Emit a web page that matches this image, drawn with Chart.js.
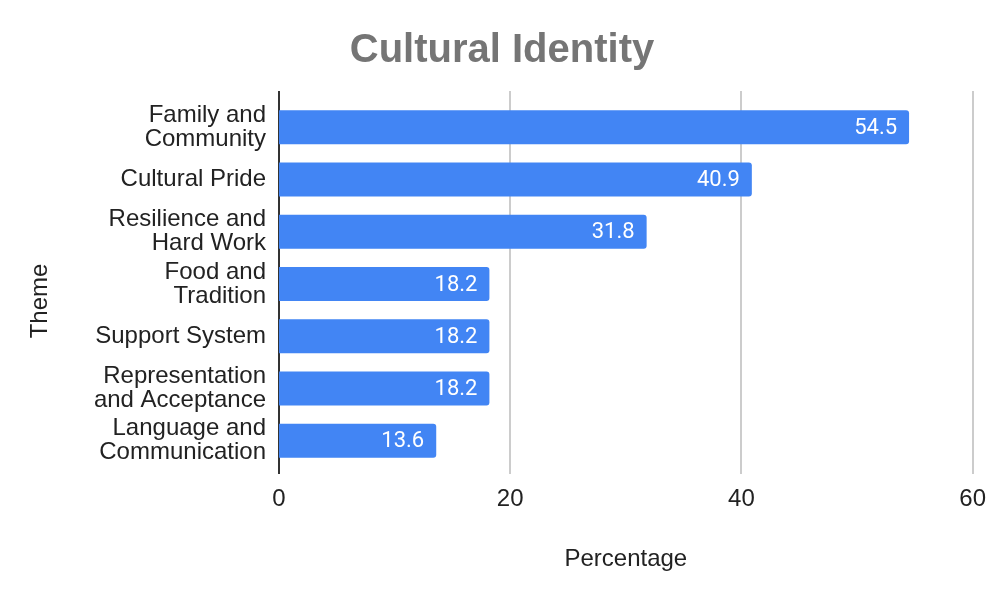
<!DOCTYPE html>
<html>
<head>
<meta charset="utf-8">
<script src="https://cdn.jsdelivr.net/npm/chart.js@4.4.0/dist/chart.umd.min.js"></script>
<style>
  html, body { margin: 0; padding: 0; background: #ffffff; }
  #wrap { width: 1004px; height: 602px; }
</style>
</head>
<body>
<div id="wrap"><canvas id="c" width="1004" height="602"></canvas></div>
<script>
const categories = [
  ["Family and", "Community"],
  "Cultural Pride",
  ["Resilience and", "Hard Work"],
  ["Food and", "Tradition"],
  "Support System",
  ["Representation", "and Acceptance"],
  ["Language and", "Communication"]
];
const percentages = [54.5, 40.9, 31.8, 18.2, 18.2, 18.2, 13.6];
const xTicks = [0, 20, 40, 60];

const chartTitle = "Cultural Identity";
const xTitle = "Percentage";
const yTitle = "Theme";

const gridPlugin = {
  id: 'gridPlugin',
  beforeDatasetsDraw(chart) {
    const ctx = chart.ctx;
    const xs = chart.scales.x;
    const top = chart.chartArea.top - 10;
    const bottom = chart.chartArea.bottom + 7;
    ctx.save();
    ctx.lineWidth = 2;
    ctx.strokeStyle = '#cccccc';
    xTicks.forEach(v => {
      if (v === 0) return;
      const x = Math.round(xs.getPixelForValue(v));
      ctx.beginPath();
      ctx.moveTo(x, top);
      ctx.lineTo(x, bottom);
      ctx.stroke();
    });
    ctx.strokeStyle = '#333333';
    const x0 = Math.round(xs.getPixelForValue(0));
    ctx.beginPath();
    ctx.moveTo(x0, top);
    ctx.lineTo(x0, bottom);
    ctx.stroke();
    ctx.restore();
  },
  afterDatasetsDraw(chart) {
    const ctx = chart.ctx;
    const meta = chart.getDatasetMeta(0);
    ctx.save();
    ctx.font = '22px Roboto';
    ctx.fillStyle = '#ffffff';
    ctx.textAlign = 'right';
    ctx.textBaseline = 'middle';
    meta.data.forEach((bar, i) => {
      ctx.fillText(percentages[i].toFixed(1), bar.x - 12, bar.y + 1);
    });
    // y axis title
    ctx.font = '24px "Liberation Sans", Arial, sans-serif';
    ctx.fillStyle = '#222222';
    ctx.textAlign = 'center';
    ctx.translate(40, 301);
    ctx.rotate(-Math.PI / 2);
    ctx.fillText(yTitle, 0, 0);
    ctx.restore();
  }
};

new Chart(document.getElementById('c'), {
  type: 'bar',
  data: {
    labels: categories,
    datasets: [{
      data: percentages,
      backgroundColor: '#4285f4',
      borderRadius: 3,
      borderSkipped: 'start',
      barPercentage: 0.65,
      categoryPercentage: 1.0
    }]
  },
  plugins: [gridPlugin],
  options: {
    indexAxis: 'y',
    responsive: false,
    animation: false,
    devicePixelRatio: 1,
    layout: { padding: { left: 30, right: 30, top: 0, bottom: 0 } },
    plugins: {
      legend: { display: false },
      tooltip: { enabled: false },
      title: {
        display: true,
        text: chartTitle,
        color: '#757575',
        font: { family: '"Liberation Sans", Arial, sans-serif', size: 40, weight: 'bold', lineHeight: 1.2 },
        padding: { top: 27, bottom: 26 }
      }
    },
    scales: {
      x: {
        type: 'linear',
        min: 0,
        max: 60,
        afterBuildTicks(scale) { scale.ticks = xTicks.map(v => ({ value: v })); },
        afterFit(scale) { scale.height = 135; },
        grid: { display: false, drawTicks: false },
        border: { display: false },
        ticks: {
          color: '#222222',
          padding: 18,
          font: { family: '"Liberation Sans", Arial, sans-serif', size: 24, lineHeight: 1.2 }
        },
        title: {
          display: true,
          text: xTitle,
          color: '#222222',
          font: { family: '"Liberation Sans", Arial, sans-serif', size: 24, lineHeight: 1.2 },
          padding: { top: 0, bottom: 28 }
        }
      },
      y: {
        afterFit(scale) { scale.width = 249; },
        grid: { display: false, drawTicks: false },
        border: { display: false },
        ticks: {
          color: '#222222',
          padding: 13,
          font: { family: '"Liberation Sans", Arial, sans-serif', size: 24, lineHeight: 1.0 }
        }
      }
    }
  }
});
</script>
</body>
</html>
